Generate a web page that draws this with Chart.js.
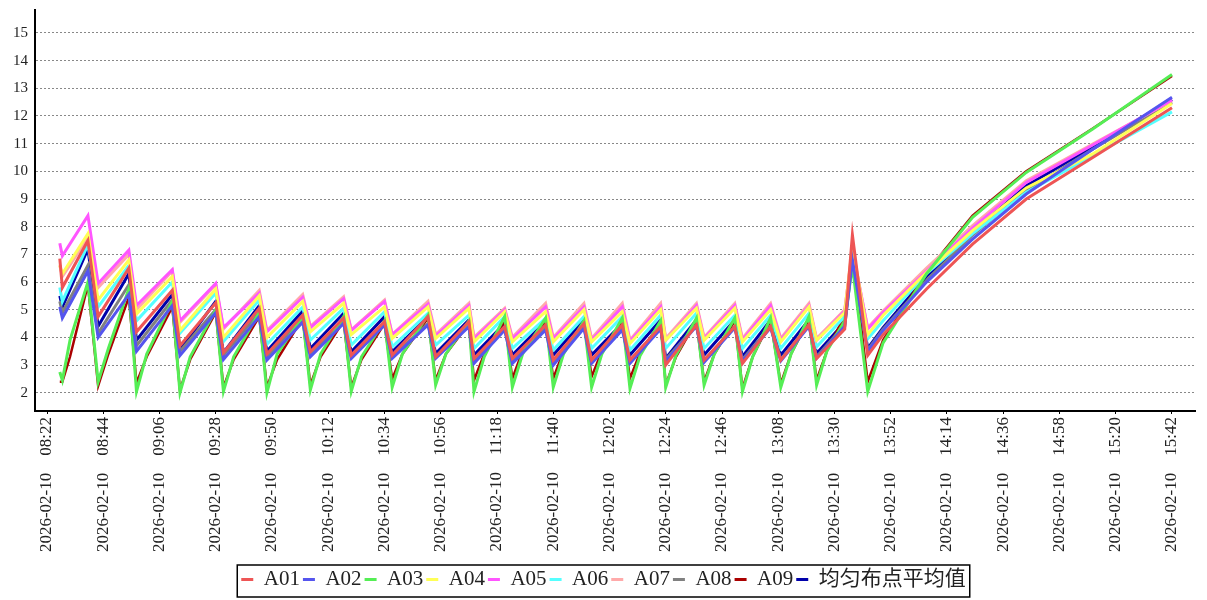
<!DOCTYPE html>
<html>
<head>
<meta charset="utf-8">
<script src="https://cdn.jsdelivr.net/npm/chart.js@4.4.1/dist/chart.umd.min.js"></script>
<style>
  html, body { margin: 0; padding: 0; background: #fff; }
  #wrap { width: 1207px; height: 600px; }
</style>
</head>
<body>
<div id="wrap"><canvas id="chart" width="1207" height="600"></canvas></div>
<script>
// sample times (peak / trough / recovery points of each cycle)
const times = [
  '08:27','08:28','08:31','08:38',
  '08:42','08:46','08:54', '08:57','09:01','09:11', '09:14','09:18','09:28', '09:31','09:35','09:45',
  '09:48','09:52','10:02', '10:05','10:09','10:18', '10:21','10:25','10:34', '10:37','10:41','10:51',
  '10:54','10:58','11:07', '11:09','11:13','11:21', '11:24','11:28','11:37', '11:40','11:44','11:52',
  '11:55','11:59','12:07', '12:10','12:14','12:22', '12:24','12:28','12:36', '12:39','12:43','12:51',
  '12:54','12:58','13:05', '13:09','13:13','13:20', '13:23','13:27','13:34',
  '13:37','13:43','13:49','14:06','14:24','14:45','15:11','15:42'
];

const a01 = [
  6.85, 5.8, null, 7.5,
  4.75,null,6.5, 4.2,null,5.7, 3.7,null,5.25, 3.45,null,5.05,
  3.4,null,4.8, 3.48,null,4.7, 3.36,null,4.57, 3.36,null,4.75,
  3.3,null,4.57, 3.24,null,4.39, 3.24,null,4.45, 3.18,null,4.5,
  3.18,null,4.45, 3.18,null,4.39, 3.0,null,4.45, 3.18,null,4.39,
  3.06,null,4.39, 3.18,null,4.45, 3.24,null,4.3,
  7.7, 3.35, 4.1, 5.75, 7.37, 9.0, 10.5, 12.3
];
const a02 = [
  5.1, 4.7, null, 6.4,
  4.0,null,5.55, 3.5,null,5.15, 3.35,null,4.9, 3.2,null,4.75,
  3.18,null,4.55, 3.3,null,4.5, 3.24,null,4.45, 3.24,null,4.45,
  3.24,null,4.39, 3.06,null,4.27, 3.06,null,4.27, 3.0,null,4.33,
  3.06,null,4.27, 3.06,null,4.3, 3.15,null,4.4, 3.1,null,4.35,
  3.15,null,4.35, 3.15,null,4.4, 3.25,null,4.4,
  6.8, 3.5, 4.25, 6.0, 7.55, 9.18, 10.8, 12.68
];
const a03 = [
  2.75, 2.45, 3.9, 6.0,
  2.4,3.6,5.75, 2.05,3.4,5.3, 2.0,3.3,5.0, 2.05,3.3,4.9,
  2.0,3.4,4.75, 2.1,3.4,4.75, 2.05,3.3,4.6, 2.2,3.4,4.8,
  2.28,3.4,4.6, 2.04,3.3,4.75, 2.2,3.4,4.7, 2.2,3.4,4.6,
  2.2,3.4,4.7, 2.16,3.35,4.6, 2.2,3.35,4.7, 2.28,3.4,4.7,
  2.04,3.3,4.7, 2.2,3.4,4.75, 2.28,3.5,4.6,
  6.6, 2.05, 3.8, 6.3, 8.34, 9.96, 11.53, 13.5
];
const a04 = [
  6.6, 6.3, null, 7.75,
  5.35,null,6.8, 4.85,null,6.2, 4.25,null,5.75, 4.0,null,5.5,
  4.0,null,5.3, 4.2,null,5.23, 4.1,null,5.1, 3.96,null,5.1,
  3.96,null,5.05, 3.84,null,4.93, 3.84,null,4.93, 3.84,null,5.0,
  3.84,null,4.93, 3.78,null,5.0, 3.9,null,5.05, 3.9,null,5.05,
  3.84,null,5.0, 3.84,null,5.1, 3.9,null,4.9,
  7.3, 4.1, 4.8, 6.35, 7.86, 9.4, 10.63, 12.45
];
const a05 = [
  7.4, 6.95, null, 8.4,
  5.95,null,7.15, 5.15,null,6.45, 4.6,null,5.95, 4.35,null,5.6,
  4.2,null,5.45, 4.35,null,5.4, 4.25,null,5.3, 4.1,null,5.2,
  4.05,null,5.15, 3.95,null,5.0, 3.95,null,5.1, 3.95,null,5.1,
  3.9,null,5.1, 3.85,null,5.1, 3.9,null,5.15, 3.95,null,5.15,
  3.9,null,5.15, 3.9,null,5.15, 3.9,null,4.95,
  7.2, 4.3, 4.9, 6.4, 7.95, 9.6, 10.95, 12.58
];
const a06 = [
  5.8, 5.3, null, 7.35,
  5.1,null,6.6, 4.6,null,6.0, 4.15,null,5.6, 3.85,null,5.35,
  3.75,null,5.1, 3.9,null,5.05, 3.72,null,4.93, 3.66,null,4.87,
  3.72,null,4.8, 3.6,null,4.75, 3.6,null,4.69, 3.54,null,4.75,
  3.6,null,4.75, 3.54,null,4.8, 3.6,null,4.87, 3.6,null,4.8,
  3.6,null,4.8, 3.6,null,4.87, 3.66,null,4.75,
  7.0, 3.95, 4.6, 6.3, 7.75, 9.24, 10.57, 12.15
];
const a07 = [
  6.6, 6.2, null, 7.6,
  5.8,null,7.0, 5.0,null,6.4, 4.55,null,5.9, 4.3,null,5.7,
  4.25,null,5.55, 4.4,null,5.47, 4.27,null,5.35, 4.1,null,5.3,
  4.1,null,5.23, 4.0,null,5.05, 4.0,null,5.23, 4.0,null,5.23,
  3.96,null,5.23, 3.9,null,5.23, 3.96,null,5.23, 4.0,null,5.23,
  3.96,null,5.23, 3.96,null,5.23, 3.96,null,5.0,
  7.1, 4.35, 4.95, 6.5, 8.04, 9.66, 10.99, 12.55
];
const a08 = [
  5.3, 4.9, null, 6.6,
  4.15,null,5.9, 3.7,null,5.35, 3.5,null,5.0, 3.35,null,4.9,
  3.3,null,4.7, 3.4,null,4.6, 3.3,null,4.5, 3.3,null,4.5,
  3.3,null,4.45, 3.15,null,4.3, 3.15,null,4.35, 3.1,null,4.4,
  3.1,null,4.35, 3.1,null,4.35, 3.2,null,4.45, 3.15,null,4.4,
  3.2,null,4.4, 3.2,null,4.45, 3.3,null,4.45,
  6.85, 3.55, 4.3, 6.05, 7.7, 9.3, 10.8, 12.5
];
const a09 = [
  2.4, 2.4, 3.3, 5.9,
  2.25,3.4,5.45, 2.35,3.3,5.1, 2.1,3.2,4.9, 2.2,3.2,4.75,
  2.2,3.2,4.7, 2.28,3.3,4.6, 2.2,3.2,4.5, 2.5,3.4,4.7,
  2.45,3.4,4.5, 2.45,3.4,4.6, 2.52,3.5,4.6, 2.52,3.5,4.55,
  2.58,3.5,4.6, 2.52,3.45,4.55, 2.28,3.3,4.6, 2.4,3.4,4.6,
  2.16,3.3,4.6, 2.33,3.4,4.65, 2.45,3.5,4.8,
  7.0, 2.4, 3.9, 6.35, 8.4, 10.0, 11.55, 13.45
];
const avg = [
  5.5, 5.1, null, 7.2,
  4.4,null,6.3, 3.9,null,5.55, 3.55,null,5.3, 3.45,null,5.15,
  3.5,null,4.95, 3.6,null,4.87, 3.48,null,4.75, 3.48,null,4.75,
  3.42,null,4.63, 3.36,null,4.5, 3.36,null,4.57, 3.36,null,4.63,
  3.36,null,4.5, 3.36,null,4.63, 3.24,null,4.63, 3.36,null,4.63,
  3.3,null,4.63, 3.36,null,4.63, 3.42,null,4.55,
  6.9, 3.6, 4.35, 6.2, 7.8, 9.48, 10.87, 12.6
];

const seriesNames = ['A01', 'A02', 'A03', 'A04', 'A05', 'A06', 'A07', 'A08', 'A09', '均匀布点平均值'];
const seriesColors = ['#ee5555', '#5555ee', '#55ee55', '#ffff55', '#ff55ff', '#55ffff', '#ffaaaa', '#808080', '#aa0000', '#0000aa'];
const seriesValues = [a01, a02, a03, a04, a05, a06, a07, a08, a09, avg];

const datePart = '2026-02-10';
const xTickLabels = ['08:22','08:44','09:06','09:28','09:50','10:12','10:34','10:56','11:18','11:40',
  '12:02','12:24','12:46','13:08','13:30','13:52','14:14','14:36','14:58','15:20','15:42'];
const yTickValues = [2, 3, 4, 5, 6, 7, 8, 9, 10, 11, 12, 13, 14, 15];

function toMin(s) {
  const p = s.split(':');
  return parseInt(p[0]) * 60 + parseInt(p[1]);
}
function fmtMin(m) {
  const h = Math.floor(m / 60), mm = Math.round(m % 60);
  return String(h).padStart(2, '0') + ':' + String(mm).padStart(2, '0');
}

const xs = times.map(toMin);
const serif = "'Liberation Serif', 'Noto Sans CJK SC', serif";

const datasets = seriesNames.map((name, i) => ({
  label: name,
  data: seriesValues[i].map((v, k) => ({ x: xs[k], y: v })),
  borderColor: seriesColors[i],
  backgroundColor: seriesColors[i],
  borderWidth: i === 8 ? 2.5 : 3,
  pointRadius: 0,
  tension: 0,
  spanGaps: true
}));

// frame round the legend
const legendFrame = {
  id: 'legendFrame',
  afterDraw(chart) {
    const lg = chart.legend;
    if (!lg || !lg.legendHitBoxes.length) return;
    const hb = lg.legendHitBoxes;
    const left = Math.min(...hb.map(b => b.left)) - 4;
    const right = Math.max(...hb.map(b => b.left + b.width)) + 4;
    const top = hb[0].top - 4;
    const ctx = chart.ctx;
    ctx.save();
    ctx.strokeStyle = '#000';
    ctx.lineWidth = 1.5;
    ctx.strokeRect(left, top, right - left, hb[0].height + 11);
    ctx.restore();
  }
};

new Chart(document.getElementById('chart'), {
  type: 'line',
  data: { datasets },
  plugins: [legendFrame],
  options: {
    responsive: false,
    animation: false,
    layout: { padding: { top: 10, right: 12, left: 12, bottom: 0 } },
    plugins: {
      tooltip: { enabled: false },
      legend: {
        position: 'bottom',
        labels: {
          boxWidth: 12,
          boxHeight: 3,
          padding: 3,
          color: '#222',
          font: { family: serif, size: 21 },
          generateLabels(chart) {
            return Chart.defaults.plugins.legend.labels.generateLabels(chart).map(it => {
              it.lineWidth = 0;
              return it;
            });
          }
        }
      }
    },
    scales: {
      x: {
        type: 'linear',
        min: 497.3,
        max: 951,
        afterFit(scale) {
          scale.height = 155;
          scale.paddingLeft = 0;
          scale.paddingRight = 0;
        },
        afterBuildTicks(scale) {
          scale.ticks = xTickLabels.map(s => ({ value: toMin(s) }));
        },
        grid: { display: true, drawOnChartArea: false, tickLength: 3, color: '#000' },
        border: { display: true, color: '#000', width: 2 },
        ticks: {
          autoSkip: false,
          minRotation: 90,
          maxRotation: 90,
          padding: 3,
          color: '#222',
          font: { family: serif, size: 17 },
          callback: v => datePart + '    ' + fmtMin(v)
        }
      },
      y: {
        min: 1.34,
        max: 15.83,
        afterFit(scale) {
          scale.width = 23;
          scale.paddingTop = 0;
          scale.paddingBottom = 0;
        },
        afterBuildTicks(scale) {
          scale.ticks = yTickValues.map(v => ({ value: v }));
        },
        grid: { color: '#888', lineWidth: 1, drawTicks: false },
        border: { display: true, color: '#000', width: 2, dash: [2, 2] },
        ticks: {
          padding: 7,
          color: '#222',
          font: { family: serif, size: 15 }
        }
      }
    }
  }
});
</script>
</body>
</html>
